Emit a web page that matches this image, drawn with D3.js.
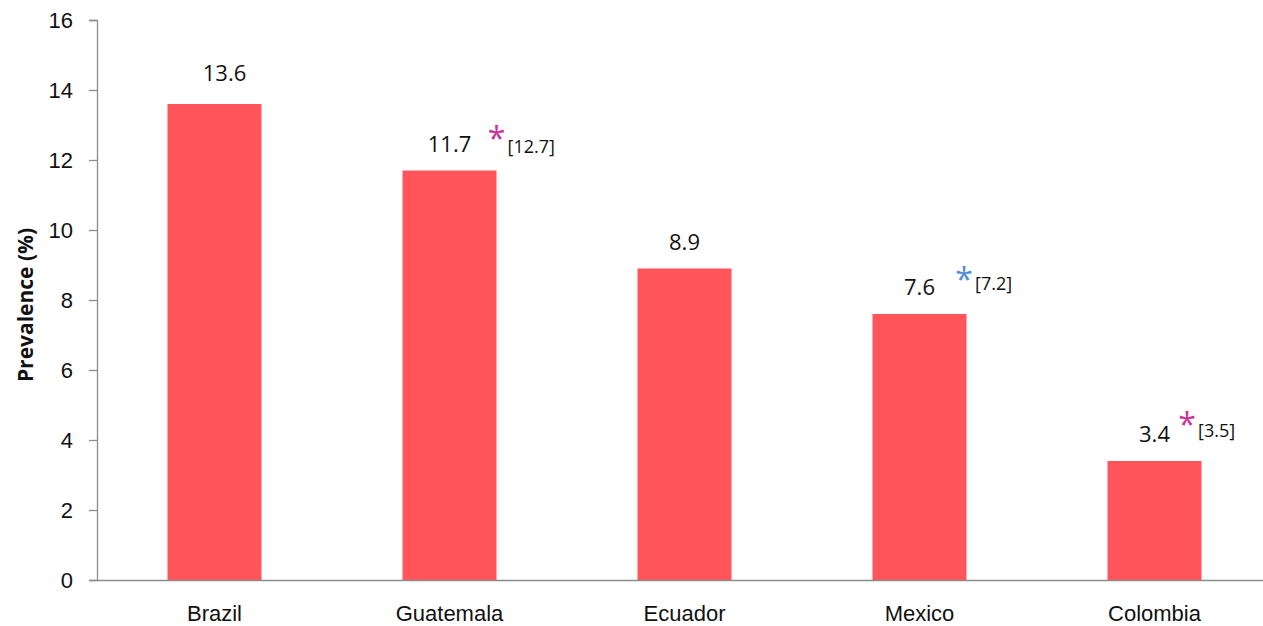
<!DOCTYPE html>
<html>
<head>
<meta charset="utf-8">
<script src="https://cdn.jsdelivr.net/npm/d3@7"></script>
<style>
  html, body { margin: 0; padding: 0; background: #fff; }
  svg { display: block; font-family: "Open Sans", "Liberation Sans", sans-serif; }
</style>
</head>
<body>
<svg id="chart" width="1263" height="626"></svg>
<script>
// Prevalence by country
const countries = ["Brazil", "Guatemala", "Ecuador", "Mexico", "Colombia"];
const prevalence = [13.6, 11.7, 8.9, 7.6, 3.4];
// Alternative estimates shown in brackets beside a marked value
const altValues = [null, 12.7, null, 7.2, 3.5];
const altMarkColors = [null, "#cc3399", null, "#4f8fd9", "#cc3399"];
const yTicks = [0, 2, 4, 6, 8, 10, 12, 14, 16];

const svg = d3.select("#chart");
const margin = { top: 20, right: -9, bottom: 46, left: 97 };
const width = 1263 - margin.left - margin.right;
const height = 626 - margin.top - margin.bottom;

const g = svg.append("g").attr("transform", `translate(${margin.left},${margin.top})`);

const x = d3.scaleBand().domain(countries).range([0, width]).paddingInner(0.6).paddingOuter(0.3);
const y = d3.scaleLinear().domain([0, 16]).range([height, 0]);

// y axis
const yAxis = g.append("g")
  .call(d3.axisLeft(y).tickValues(yTicks).tickSize(8).tickSizeOuter(8).tickPadding(16).tickFormat(d3.format("d")));
yAxis.select(".domain").attr("stroke", "#8c8c8c").attr("stroke-width", 1.3);
yAxis.selectAll(".tick line").attr("stroke", "#8c8c8c").attr("stroke-width", 1.3);
yAxis.selectAll(".tick text").attr("font-size", 22).attr("fill", "#111");

// bars
g.selectAll("rect.bar")
  .data(countries)
  .join("rect")
  .attr("class", "bar")
  .attr("x", d => x(d))
  .attr("width", x.bandwidth())
  .attr("y", (d, i) => y(prevalence[i]))
  .attr("height", (d, i) => y(0) - y(prevalence[i]))
  .attr("fill", "#ff5459");

// x axis baseline and labels
const xAxis = g.append("g").attr("transform", `translate(0,${height})`)
  .call(d3.axisBottom(x).tickSize(0).tickSizeOuter(0).tickPadding(25));
xAxis.select(".domain").attr("stroke", "#8c8c8c").attr("stroke-width", 1.6);
xAxis.selectAll(".tick text").attr("font-size", 22).attr("fill", "#111");

// value labels, with bracketed alternative estimates where present
const labelDx = [10, 0, 0, 0, 0];
const labelRise = [23, 19, 19, 19, 19];
const starDx = [0, 47, 0, 44.5, 32.5];      // asterisk centre from label centre
const starTop = [0, -24, 0, -27, -29];      // asterisk top from label baseline
const bracketDy = [0, 1, 0, -5, -5];        // bracket baseline from label baseline

countries.forEach((c, i) => {
  const cx = x(c) + x.bandwidth() / 2 + labelDx[i];
  const base = y(prevalence[i]) - labelRise[i];
  g.append("text")
    .attr("x", cx)
    .attr("y", base)
    .attr("text-anchor", "middle")
    .attr("font-size", 22)
    .attr("fill", "#111")
    .text(prevalence[i].toFixed(1));

  if (altValues[i] !== null) {
    const sx = cx + starDx[i];
    g.append("text")
      .attr("x", sx)
      .attr("y", base + starTop[i] + 22.5)
      .attr("text-anchor", "middle")
      .attr("font-size", 32)
      .attr("fill", altMarkColors[i])
      .text("*");
    g.append("text")
      .attr("x", sx + 11)
      .attr("y", base + bracketDy[i])
      .attr("font-size", 18)
      .attr("fill", "#111")
      .text(`[${altValues[i]}]`);
  }
});

// y axis title
svg.append("text")
  .attr("transform", `translate(33,${margin.top + height / 2 + 5}) rotate(-90)`)
  .attr("text-anchor", "middle")
  .attr("font-size", 21)
  .attr("font-weight", "bold")
  .attr("fill", "#111")
  .text("Prevalence (%)");
</script>
</body>
</html>
